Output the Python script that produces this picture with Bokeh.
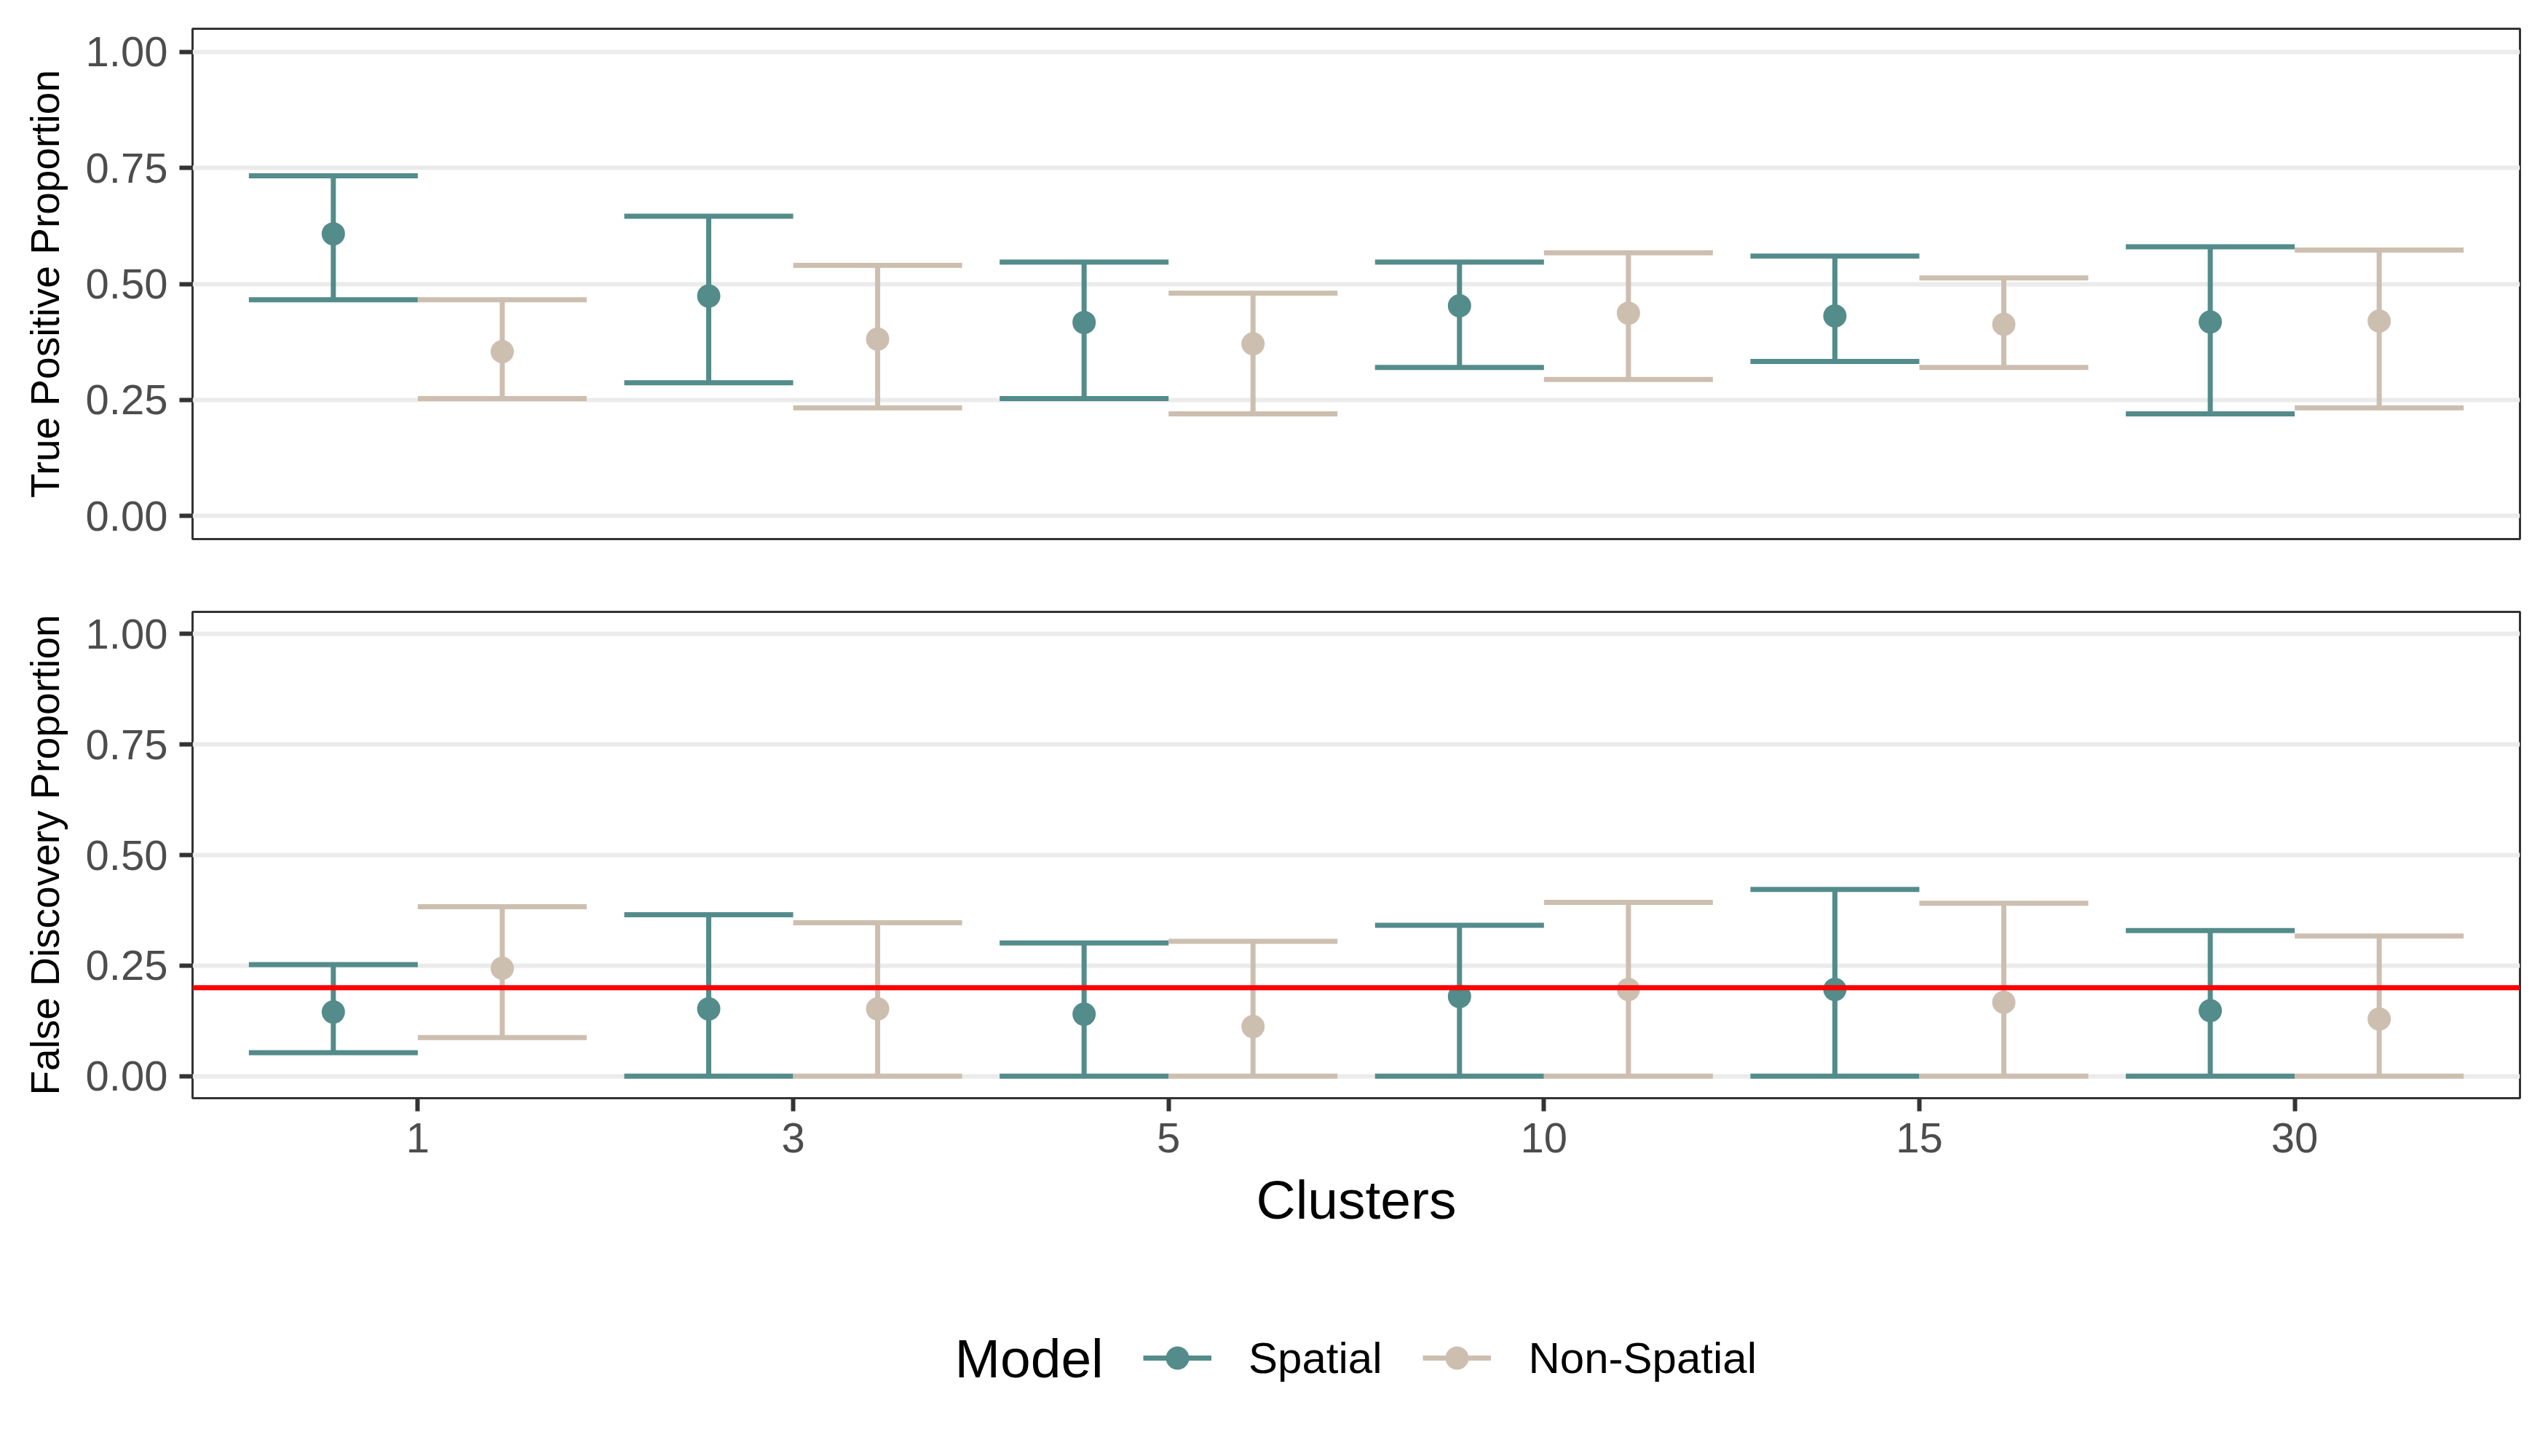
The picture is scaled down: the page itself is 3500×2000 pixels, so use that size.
from bokeh.plotting import figure
from bokeh.models import (ColumnDataSource, FactorRange, FixedTicker, NumeralTickFormatter,
                          Range1d, Span, Legend, LegendItem, Label)
from bokeh.transform import dodge
from bokeh.layouts import column
from bokeh.embed import file_html
from bokeh.resources import INLINE

# ---------------- data ----------------
clusters = ["1", "3", "5", "10", "15", "30"]
models = ["Spatial", "Non-Spatial"]
y_ticks = [0.0, 0.25, 0.5, 0.75, 1.0]

tpp_spatial_mean = [0.608, 0.474, 0.417, 0.453, 0.431, 0.418]
tpp_spatial_lower = [0.466, 0.287, 0.253, 0.320, 0.333, 0.220]
tpp_spatial_upper = [0.733, 0.646, 0.547, 0.547, 0.560, 0.580]
tpp_nonspatial_mean = [0.354, 0.381, 0.371, 0.437, 0.413, 0.420]
tpp_nonspatial_lower = [0.253, 0.233, 0.220, 0.294, 0.320, 0.233]
tpp_nonspatial_upper = [0.466, 0.540, 0.480, 0.567, 0.513, 0.573]

fdp_spatial_mean = [0.145, 0.152, 0.140, 0.180, 0.196, 0.148]
fdp_spatial_lower = [0.053, 0.0, 0.0, 0.0, 0.0, 0.0]
fdp_spatial_upper = [0.252, 0.365, 0.301, 0.341, 0.422, 0.329]
fdp_nonspatial_mean = [0.244, 0.152, 0.112, 0.196, 0.167, 0.129]
fdp_nonspatial_lower = [0.087, 0.0, 0.0, 0.0, 0.0, 0.0]
fdp_nonspatial_upper = [0.383, 0.347, 0.305, 0.393, 0.391, 0.317]

fdp_target = 0.2

# ---------------- styles ----------------
FONT = "Liberation Sans"
COLORS = {"Spatial": "#538C8A", "Non-Spatial": "#CDBFB0"}
OFFSETS = {"Spatial": -0.225, "Non-Spatial": 0.225}
HALF_CAP = 0.225
LW = 7
FIG_W = 3480
LEFT = 264

x_range = FactorRange(factors=clusters, range_padding=0.1, range_padding_units="absolute")


def make_panel(frame_h, ylabel, top_border, bottom_border, show_x):
    p = figure(x_range=x_range, y_range=Range1d(-0.05, 1.05),
               frame_width=3197, frame_height=frame_h,
               output_backend="svg", toolbar_location=None,
               x_axis_location="below" if show_x else None,
               min_border_left=LEFT, min_border_right=19,
               min_border_top=top_border, min_border_bottom=bottom_border,
               background_fill_color="white", border_fill_color="white")
    p.outline_line_color = "#333333"
    p.outline_line_width = 3
    p.xgrid.visible = False
    p.ygrid.grid_line_color = "#EBEBEB"
    p.ygrid.grid_line_width = 6
    p.ygrid.ticker = FixedTicker(ticks=y_ticks)

    ax = p.yaxis[0]
    ax.ticker = FixedTicker(ticks=y_ticks)
    ax.formatter = NumeralTickFormatter(format="0.00")
    ax.axis_line_color = None
    ax.major_tick_line_color = "#333333"
    ax.major_tick_line_width = 6
    ax.major_tick_out = 18
    ax.major_tick_in = 0
    ax.minor_tick_line_color = None
    ax.major_label_text_font = FONT
    ax.major_label_text_font_size = "58px"
    ax.major_label_text_color = "#4D4D4D"
    ax.major_label_standoff = 16
    ax.axis_label = ylabel
    ax.axis_label_text_font = FONT
    ax.axis_label_text_font_size = "55px"
    ax.axis_label_text_font_style = "normal"
    ax.axis_label_text_color = "black"
    ax.axis_label_standoff = 22

    if show_x:
        xa = p.xaxis[0]
        xa.axis_line_color = None
        xa.major_tick_line_color = "#333333"
        xa.major_tick_line_width = 6
        xa.major_tick_out = 18
        xa.major_tick_in = 0
        xa.minor_tick_line_color = None
        xa.major_label_text_font = FONT
        xa.major_label_text_font_size = "58px"
        xa.major_label_text_color = "#4D4D4D"
        xa.major_label_standoff = 16
        xa.axis_label = "Clusters"
        xa.axis_label_text_font = FONT
        xa.axis_label_text_font_size = "75px"
        xa.axis_label_text_font_style = "normal"
        xa.axis_label_text_color = "black"
        xa.axis_label_standoff = 20
    return p


def draw_series(p, data):
    bars = {}
    srcs = {}
    for m in models:
        mean, lo, hi = data[m]
        src = ColumnDataSource(dict(cluster=clusters, mean=mean, lower=lo, upper=hi))
        srcs[m] = src
        off = OFFSETS[m]
        c = COLORS[m]
        xc = dodge("cluster", off, range=x_range)
        xl = dodge("cluster", off - HALF_CAP, range=x_range)
        xr = dodge("cluster", off + HALF_CAP, range=x_range)
        p.segment(x0=xc, y0="lower", x1=xc, y1="upper", source=src,
                  line_color=c, line_width=LW, line_cap="butt")
        p.segment(x0=xl, y0="lower", x1=xr, y1="lower", source=src,
                  line_color=c, line_width=LW, line_cap="butt")
        bars[m] = p.segment(x0=xl, y0="upper", x1=xr, y1="upper", source=src,
                            line_color=c, line_width=LW, line_cap="butt")
    pts = {}
    for m in models:
        xc = dodge("cluster", OFFSETS[m], range=x_range)
        pts[m] = p.scatter(x=xc, y="mean", source=srcs[m], size=32,
                           fill_color=COLORS[m], line_color=None)
    return bars, pts


fdp_data = {
    "Spatial": (fdp_spatial_mean, fdp_spatial_lower, fdp_spatial_upper),
    "Non-Spatial": (fdp_nonspatial_mean, fdp_nonspatial_lower, fdp_nonspatial_upper),
}

p1 = make_panel(701, "True Positive Proportion", 39, 50, False)
draw_series(p1, {
    "Spatial": (tpp_spatial_mean, tpp_spatial_lower, tpp_spatial_upper),
    "Non-Spatial": (tpp_nonspatial_mean, tpp_nonspatial_lower, tpp_nonspatial_upper),
})

p2 = make_panel(668, "False Discovery Proportion", 50, 240, True)
draw_series(p2, fdp_data)
p2.add_layout(Span(location=fdp_target, dimension="width", line_color="#FF0000", line_width=LW))

# ---------------- legend row ----------------
LEG_H = 234
p3 = figure(width=FIG_W, height=LEG_H, x_range=x_range, y_range=Range1d(5, 6),
            output_backend="svg", toolbar_location=None,
            x_axis_location=None, y_axis_location=None,
            min_border_left=0, min_border_right=0, min_border_top=0, min_border_bottom=0,
            background_fill_color="white", border_fill_color="white")
p3.outline_line_color = None
p3.grid.visible = False
# the legend keys reuse the series' own glyph styles (drawn outside this row's visible range)
bars3, pts3 = draw_series(p3, fdp_data)

legend = Legend(
    items=[LegendItem(label=m, renderers=[bars3[m], pts3[m]]) for m in models],
    orientation="horizontal", location=(1306, (LEG_H - 80) / 2),
    label_text_font=FONT, label_text_font_size="60px", label_text_color="black",
    glyph_width=94, glyph_height=80, label_standoff=51, spacing=56,
    padding=0, margin=0, border_line_color=None, background_fill_alpha=0,
)
p3.add_layout(legend, "center")
p3.add_layout(Label(x=1047, y=5.5, x_units="screen", y_units="data", text="Model",
                    text_font=FONT, text_font_size="75px", text_color="black",
                    text_align="left", text_baseline="middle"))

layout = column(p1, p2, p3, spacing=0)
open("out.html", "w").write(file_html(layout, INLINE))
